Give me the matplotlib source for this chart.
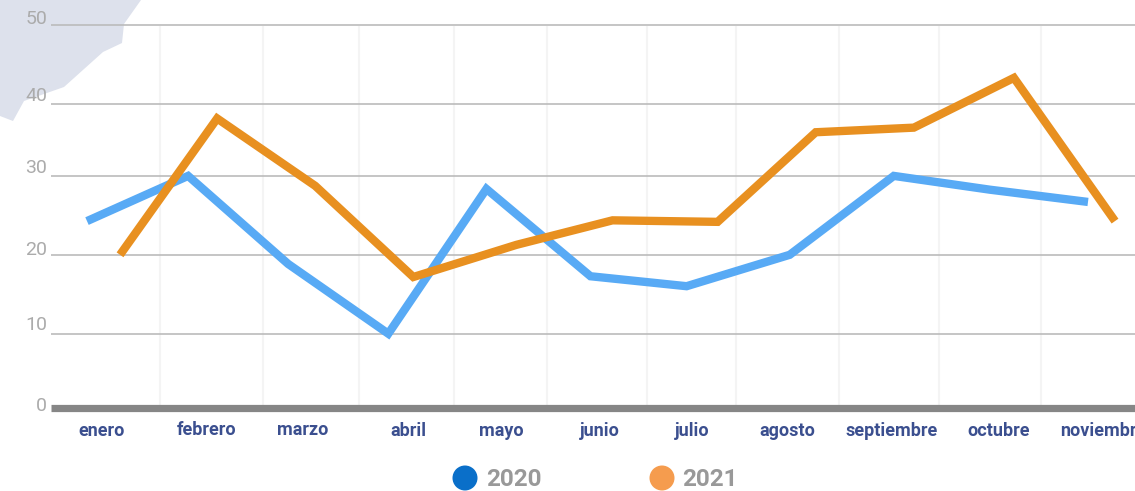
import matplotlib
matplotlib.use('Agg')
import matplotlib.pyplot as plt
from matplotlib.patches import Circle, Polygon
from matplotlib.transforms import Affine2D

W, H = 1135, 491

months = ['enero', 'febrero', 'marzo', 'abril', 'mayo', 'junio', 'julio',
          'agosto', 'septiembre', 'octubre', 'noviembre']
# month position of each point, the two lines do not share an x
pos_2020 = [0, 1.01, 2.01, 3.01, 3.99, 5.03, 5.99, 7.02, 8.06, 9.02, 10]
pos_2021 = [0.33, 1.30, 2.28, 3.26, 4.29, 5.25, 6.30, 7.28, 8.26, 9.26, 10.27]
val_2020 = [24.4, 30.3, 18.8, 9.7, 28.6, 17.2, 15.9, 20.0, 30.3, 28.5, 26.9]
val_2021 = [20.0, 37.8, 29.0, 17.1, 21.3, 24.5, 24.3, 36.0, 36.6, 43.1, 24.4]

y_labels = ['0', '10', '20', '30', '40', '50']
# the rules are not evenly spaced in the original
y_rules = [9.6, 20.0, 30.3, 39.7, 50]

fig = plt.figure(figsize=(W / 100, H / 100), dpi=100)
ax = fig.add_axes([0, 0, 1, 1])
ax.set_xlim(-87 / 100.1, (W - 87) / 100.1)
ax.set_ylim((408 - H) / 7.66, 408 / 7.66)
ax.axis('off')

# page furniture is placed in pixels, y going down
page = Affine2D().scale(1, -1).translate(0, H)

blob = [(0, 0), (141, 0), (124, 24), (122, 43), (103, 52), (64, 87), (24, 101),
        (13, 121), (0, 116)]
ax.add_patch(Polygon(blob, closed=True, fc='#dde1ec', ec='none', transform=page, zorder=0))

for x in [160, 263, 359, 454, 547, 647, 736, 839, 939, 1041]:
    ax.plot([x, x], [27, 405], color='#f4f4f4', lw=1.5, transform=page, zorder=1)

for v in y_rules:
    ax.plot([(51 - 87) / 100.1, (W - 87) / 100.1], [v, v], color='#bbbbbb', lw=1.2, zorder=2,
            solid_capstyle='butt')
ax.plot([51, W], [408.3, 408.3], color='#868686', lw=5.2, transform=page, zorder=2,
        solid_capstyle='butt')

ax.plot(pos_2020, val_2020, color='#58aaf5', lw=6, zorder=3, solid_capstyle='butt',
        solid_joinstyle='miter')
ax.plot(pos_2021, val_2021, color='#e89020', lw=6, zorder=4, solid_capstyle='butt',
        solid_joinstyle='miter')

for label, y in zip(y_labels, [406, 325, 250, 168, 96, 19]):
    ax.text(47, y, label, family='Roboto', weight='normal', fontsize=14, color='#ababab',
            ha='right', va='center', transform=page)

label_x = [102, 207, 303, 408, 501, 600, 692, 787, 892, 999, 1103]
label_y = [431, 430, 430, 431, 431, 431, 431, 431, 431, 431, 431]
for label, x, y in zip(months, label_x, label_y):
    ax.text(x, y, label, family='Roboto', weight='bold', fontsize=13, color='#3b4f8f',
            ha='center', va='center', transform=page)

ax.add_patch(Circle((465, 478), 12.5, fc='#0a6fc9', ec='none', transform=page))
ax.add_patch(Circle((662, 478), 12.5, fc='#f59c4e', ec='none', transform=page))
ax.text(486, 479, '2020', family='Roboto', weight='bold', fontsize=17.5, color='#999999',
        ha='left', va='center', transform=page)
ax.text(682, 479, '2021', family='Roboto', weight='bold', fontsize=17.5, color='#999999',
        ha='left', va='center', transform=page)

fig.savefig('out.png', dpi=100)
